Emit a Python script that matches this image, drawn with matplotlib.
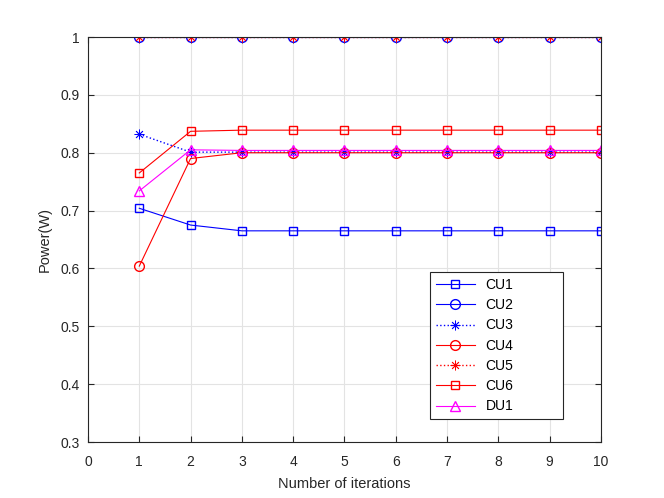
import numpy as np
import matplotlib
matplotlib.use("Agg")
import matplotlib.pyplot as plt

# power per user across iterations
iters = [1, 2, 3, 4, 5, 6, 7, 8, 9, 10]
cu1 = [0.704, 0.675, 0.665, 0.665, 0.665, 0.665, 0.665, 0.665, 0.665, 0.665]
cu2 = [1.0, 1.0, 1.0, 1.0, 1.0, 1.0, 1.0, 1.0, 1.0, 1.0]
cu3 = [0.832, 0.801, 0.801, 0.801, 0.801, 0.801, 0.801, 0.801, 0.801, 0.801]
cu4 = [0.604, 0.790, 0.800, 0.800, 0.800, 0.800, 0.800, 0.800, 0.800, 0.800]
cu5 = [1.0, 1.0, 1.0, 1.0, 1.0, 1.0, 1.0, 1.0, 1.0, 1.0]
cu6 = [0.765, 0.837, 0.839, 0.839, 0.839, 0.839, 0.839, 0.839, 0.839, 0.839]
du1 = [0.734, 0.805, 0.804, 0.804, 0.804, 0.804, 0.804, 0.804, 0.804, 0.804]

plt.rcParams['font.family'] = ['Liberation Sans', 'DejaVu Sans']
plt.rcParams['font.size'] = 10

fig = plt.figure(figsize=(6.64, 4.98), dpi=100)
ax = fig.add_axes([0.1325, 0.1124, 0.7726, 0.8133])

ast = (8, 2, 0)  # matlab-like asterisk
ax.plot(iters, cu1, '-', color='blue', marker='s', mfc='none', ms=5.5, lw=0.8, label='CU1')
ax.plot(iters, cu2, '-', color='blue', marker='o', mfc='none', ms=7, lw=0.8, label='CU2')
ax.plot(iters, cu3, ':', color='blue', marker=ast, mfc='none', ms=7, mew=0.6, lw=1.0, label='CU3')
ax.plot(iters, cu4, '-', color='red', marker='o', mfc='none', ms=7, lw=0.8, label='CU4')
ax.plot(iters, cu5, ':', color='red', marker=ast, mfc='none', ms=7, mew=0.6, lw=1.0, label='CU5')
ax.plot(iters, cu6, '-', color='red', marker='s', mfc='none', ms=5.5, lw=0.8, label='CU6')
ax.plot(iters, du1, '-', color='magenta', marker='^', mfc='none', ms=7, lw=0.8, label='DU1')

ax.set_xlim(0, 10)
ax.set_ylim(0.3, 1.0)
ax.set_xticks(range(0, 11))
ax.set_yticks([0.3, 0.4, 0.5, 0.6, 0.7, 0.8, 0.9, 1.0])
ax.set_yticklabels(['0.3', '0.4', '0.5', '0.6', '0.7', '0.8', '0.9', '1'])
ax.grid(True, color='#e3e3e3', lw=0.8)
ax.set_axisbelow(True)
ax.tick_params(direction='in', top=True, right=True, length=4, colors='#262626', labelsize=10)
ax.tick_params(axis='x', pad=9)
ax.tick_params(axis='y', pad=6)
for s in ax.spines.values():
    s.set_color('#262626')
    s.set_linewidth(0.8)

ax.set_xlabel('Number of iterations', fontsize=10.5, color='#262626', labelpad=6)
ax.set_ylabel('Power(W)', fontsize=10.5, color='#262626', labelpad=6)

leg = ax.legend(loc='lower left', bbox_to_anchor=(0.667, 0.057, 0.258, 0.35), mode='expand',
                fancybox=False, edgecolor='#262626', framealpha=1, fontsize=10,
                handlelength=2.8, borderaxespad=0, labelspacing=0.45)
leg.get_frame().set_linewidth(0.8)

fig.savefig('out.png', dpi=100)
